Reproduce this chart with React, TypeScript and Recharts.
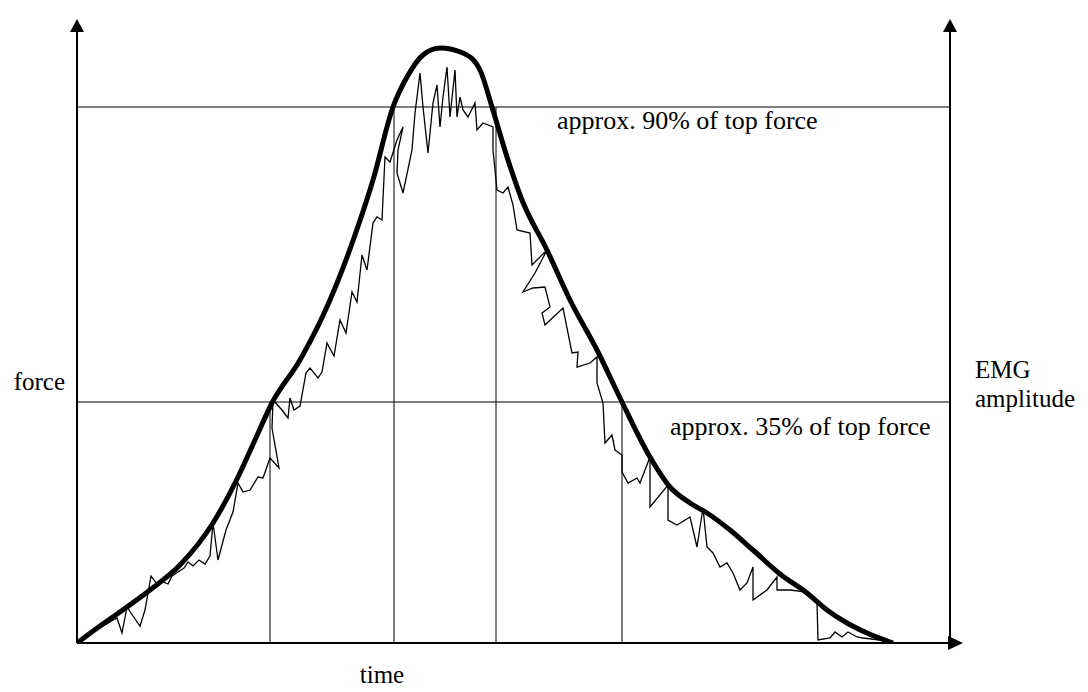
import React from 'react';
import { ComposedChart, Line, XAxis, YAxis, ReferenceLine, ReferenceDot } from 'recharts';

// time (arbitrary units) and force (arbitrary units, peak = 595)
const forceCurve: [number, number][] = [
  [0, 0], [23, 17], [50, 36], [73, 53], [103, 78], [136, 120], [161, 166], [178, 203],
  [195, 240], [223, 283], [253, 343], [278, 408], [296, 463], [316, 536], [330, 566],
  [346, 588], [363, 595], [386, 590], [403, 573], [415, 536], [430, 486], [445, 443],
  [470, 393], [493, 343], [520, 293], [545, 241], [573, 186], [593, 156], [613, 140],
  [630, 130], [653, 113], [676, 93], [703, 69], [730, 50], [750, 33], [770, 20],
  [790, 10], [816, 0],
];

const emgTrace: [number, number][] = [
  [1, 1], [13, 9], [23, 15], [33, 21], [40, 25], [45, 10], [50, 36], [56, 27], [63, 17],
  [68, 33], [74, 67], [80, 59], [86, 61], [91, 59], [95, 67], [101, 71], [107, 75],
  [111, 81], [116, 77], [122, 83], [128, 79], [133, 87], [136, 120], [141, 83], [149, 113],
  [156, 131], [161, 160], [166, 151], [173, 153], [181, 166], [186, 165], [193, 185],
  [202, 175], [195, 215], [196, 243], [205, 233], [211, 225], [213, 245], [217, 233],
  [223, 237], [229, 270], [233, 275], [241, 265], [245, 271], [250, 300], [257, 287],
  [263, 323], [269, 310], [275, 351], [280, 341], [285, 388], [290, 373], [296, 420],
  [300, 426], [305, 423], [308, 486], [313, 481], [320, 503], [326, 516], [321, 493],
  [320, 470], [326, 450], [335, 493], [338, 530], [343, 570], [346, 536], [351, 490],
  [356, 540], [360, 558], [363, 516], [366, 546], [370, 576], [373, 526], [378, 573],
  [380, 526], [383, 546], [386, 533], [391, 526], [398, 540], [400, 513], [406, 520],
  [416, 516], [416, 493], [420, 453], [426, 450], [431, 456], [436, 438], [440, 413],
  [453, 410], [455, 378], [470, 393], [458, 370], [446, 351], [456, 355], [468, 356],
  [473, 336], [465, 330], [468, 318], [486, 335], [495, 290], [501, 291], [500, 276],
  [513, 280], [520, 286], [520, 260], [526, 240], [528, 200], [535, 208], [538, 193],
  [545, 188], [545, 171], [551, 160], [560, 165], [563, 160], [573, 186], [573, 136],
  [591, 158], [591, 123], [600, 118], [613, 126], [620, 96], [626, 135], [630, 96],
  [636, 90], [643, 76], [650, 80], [656, 70], [663, 53], [670, 60], [676, 76], [676, 43],
  [690, 53], [700, 66], [700, 53], [713, 53], [730, 51], [740, 40], [741, 3], [753, 5],
  [758, 11], [765, 6], [771, 11], [780, 6], [786, 5], [803, 3], [813, 1],
];

const level90 = 536;
const level35 = 241;
const markers90: number[] = [317, 419];
const markers35: number[] = [193, 545];
const rightAxisTime = 873;
const axisTop = 612;
const arrowTipForce = 624;
const arrowTipTime = 886;

const label90 = 'approx. 90% of top force';
const label35 = 'approx. 35% of top force';
const yLabel = 'force';
const yLabel2a = 'EMG';
const yLabel2b = 'amplitude';
const xLabel = 'time';

const forceData = forceCurve.map(([t, f]) => ({ t, f }));
const emgData = emgTrace.map(([t, f]) => ({ t, f }));

const FONT = '"Liberation Serif", "Times New Roman", serif';

const upArrow = (p: any) => (
  <polygon points={`${p.cx},${p.cy} ${p.cx - 7},${p.cy + 13} ${p.cx + 7},${p.cy + 13}`} fill="#000" />
);
const rightArrow = (p: any) => (
  <polygon points={`${p.cx},${p.cy} ${p.cx - 15},${p.cy - 7} ${p.cx - 15},${p.cy + 7}`} fill="#000" />
);
const textAt = (txt: string, dx: number, dy: number, anchor: string, fs: number = 25) => (p: any) => (
  <text x={p.cx + dx} y={p.cy + dy} textAnchor={anchor} fontFamily={FONT} fontSize={fs} fill="#000">
    {txt}
  </text>
);

export default function App() {
  return (
    <div style={{ width: 1080, height: 684, background: '#fff' }}>
      <ComposedChart width={1080} height={684} margin={{ top: 7, right: 120, bottom: 49, left: 69 }}>
        <XAxis type="number" dataKey="t" domain={[0, 891]} hide allowDataOverflow />
        <YAxis type="number" dataKey="f" domain={[0, 628]} hide allowDataOverflow />

        {/* axes */}
        <ReferenceLine segment={[{ x: 0, y: 0 }, { x: 0, y: axisTop }]} stroke="#000" strokeWidth={2} />
        <ReferenceLine segment={[{ x: rightAxisTime, y: 0 }, { x: rightAxisTime, y: axisTop }]} stroke="#000" strokeWidth={2} />
        <ReferenceLine segment={[{ x: 0, y: 0 }, { x: arrowTipTime - 13, y: 0 }]} stroke="#000" strokeWidth={2} />
        <ReferenceDot x={0} y={arrowTipForce} shape={upArrow} />
        <ReferenceDot x={rightAxisTime} y={arrowTipForce} shape={upArrow} />
        <ReferenceDot x={arrowTipTime} y={0} shape={rightArrow} />

        {/* threshold levels */}
        <ReferenceLine segment={[{ x: 0, y: level90 }, { x: rightAxisTime, y: level90 }]} stroke="#000" strokeWidth={1.2} />
        <ReferenceLine segment={[{ x: 0, y: level35 }, { x: rightAxisTime, y: level35 }]} stroke="#000" strokeWidth={1.2} />
        {markers90.map((m) => (
          <ReferenceLine key={'a' + m} segment={[{ x: m, y: 0 }, { x: m, y: level90 }]} stroke="#000" strokeWidth={1} />
        ))}
        {markers35.map((m) => (
          <ReferenceLine key={'b' + m} segment={[{ x: m, y: 0 }, { x: m, y: level35 }]} stroke="#000" strokeWidth={1} />
        ))}

        <Line data={emgData} dataKey="f" type="linear" stroke="#000" strokeWidth={1.3} dot={false} activeDot={false} isAnimationActive={false} />
        <Line data={forceData} dataKey="f" type="monotone" stroke="#000" strokeWidth={5} dot={false} activeDot={false} isAnimationActive={false} />

        {/* texts */}
        <ReferenceDot x={480} y={level90} shape={textAt(label90, 0, 22, 'start', 26)} />
        <ReferenceDot x={593} y={level35} shape={textAt(label35, 0, 33, 'start', 26)} />
        <ReferenceDot x={0} y={260} shape={textAt(yLabel, -12, 7, 'end')} />
        <ReferenceDot x={rightAxisTime} y={260} shape={textAt(yLabel2a, 25, -5, 'start')} />
        <ReferenceDot x={rightAxisTime} y={260} shape={textAt(yLabel2b, 25, 24, 'start')} />
        <ReferenceDot x={305} y={0} shape={textAt(xLabel, 0, 40, 'middle')} />
      </ComposedChart>
    </div>
  );
}
